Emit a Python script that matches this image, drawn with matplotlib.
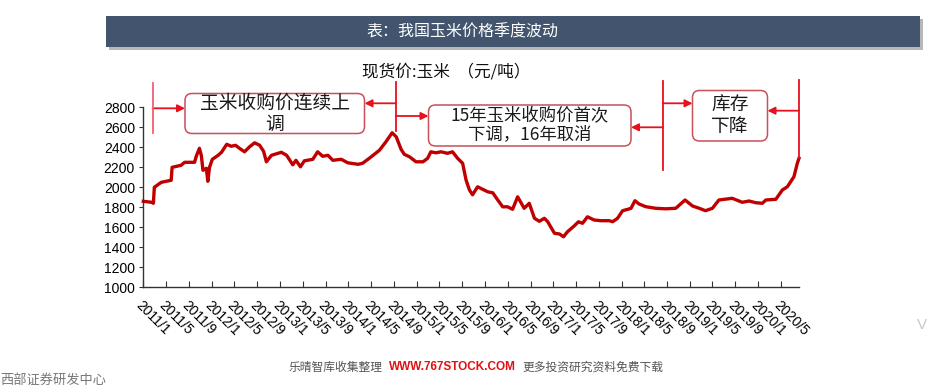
import matplotlib
matplotlib.use('Agg')
import matplotlib.pyplot as plt
import matplotlib.dates as mdates
import matplotlib.patches as mpatches
from matplotlib.transforms import Affine2D
from matplotlib.ticker import FuncFormatter
import pandas as pd

# 现货价:玉米 (元/吨)，从图上读出的近似值
dates = ['2011-01-01', '2011-02-15', '2011-02-24', '2011-03-01', '2011-04-07', '2011-05-30',
         '2011-06-04', '2011-07-22', '2011-08-10', '2011-10-02', '2011-10-11', '2011-10-28',
         '2011-11-07', '2011-11-16', '2011-12-04', '2011-12-12', '2011-12-21', '2012-01-05',
         '2012-02-05', '2012-02-23', '2012-03-22', '2012-04-15', '2012-05-08', '2012-05-29',
         '2012-06-25', '2012-07-22', '2012-08-18', '2012-09-14', '2012-10-05', '2012-10-20',
         '2012-11-16', '2013-01-08', '2013-02-05', '2013-03-10', '2013-03-27', '2013-04-20',
         '2013-05-11', '2013-06-25', '2013-07-21', '2013-08-17', '2013-09-14', '2013-10-10',
         '2013-11-24', '2013-12-29', '2014-02-22', '2014-03-18', '2014-04-23', '2014-06-16',
         '2014-07-21', '2014-08-23', '2014-09-14', '2014-10-10', '2014-10-27', '2014-11-24',
         '2014-12-29', '2015-02-04', '2015-03-01', '2015-03-18', '2015-04-14', '2015-05-11',
         '2015-06-15', '2015-07-12', '2015-08-08', '2015-09-04', '2015-09-22', '2015-10-10',
         '2015-10-27', '2015-11-23', '2015-12-20', '2016-01-16', '2016-02-12', '2016-03-09',
         '2016-04-05', '2016-05-01', '2016-05-28', '2016-06-24', '2016-07-29', '2016-08-25',
         '2016-09-22', '2016-10-18', '2016-11-14', '2016-12-02', '2017-01-07', '2017-02-03',
         '2017-02-24', '2017-03-17', '2017-04-22', '2017-05-15', '2017-06-06', '2017-07-02',
         '2017-08-07', '2017-09-13', '2017-10-26', '2017-11-14', '2017-12-10', '2018-01-06',
         '2018-02-03', '2018-02-20', '2018-03-13', '2018-04-04', '2018-05-10', '2018-07-02',
         '2018-08-25', '2018-10-17', '2018-12-06', '2019-01-15', '2019-02-20', '2019-03-25',
         '2019-05-01', '2019-06-05', '2019-08-15', '2019-10-08', '2019-11-13', '2019-12-18',
         '2020-01-23', '2020-02-11', '2020-04-04', '2020-05-09', '2020-06-05', '2020-07-10',
         '2020-07-28', '2020-08-06']
prices = [1860, 1850, 1840, 2000, 2050, 2070,
          2200, 2220, 2250, 2250, 2310, 2390,
          2320, 2170, 2190, 2060, 2200, 2280,
          2320, 2350, 2430, 2410, 2420, 2390,
          2355, 2405, 2445, 2420, 2360, 2255,
          2320, 2350, 2320, 2225, 2270, 2205,
          2265, 2280, 2355, 2310, 2320, 2270,
          2280, 2245, 2230, 2240, 2290, 2370,
          2455, 2545, 2505, 2380, 2330, 2305,
          2255, 2255, 2290, 2355, 2345, 2355,
          2340, 2355, 2290, 2240, 2075, 1975,
          1925, 2005, 1980, 1955, 1945, 1875,
          1805, 1805, 1780, 1905, 1790, 1840,
          1690, 1660, 1690, 1655, 1540, 1533,
          1505, 1555, 1613, 1655, 1640, 1705,
          1673, 1666, 1666, 1656, 1690, 1766,
          1780, 1790, 1866, 1833, 1806, 1790,
          1785, 1790, 1873, 1813, 1790, 1766,
          1790, 1873, 1890, 1850, 1863, 1846,
          1840, 1873, 1880, 1973, 2006, 2106,
          2240, 2290]

yticks = list(range(1000, 2801, 200))
title = '表：我国玉米价格季度波动'
chart_title = '现货价:玉米  （元/吨）'
notes = ['玉米收购价连续上\n调', '15年玉米收购价首次\n下调，16年取消', '库存\n下降']


def main():
    plt.rcParams['font.family'] = ['Liberation Sans', 'Noto Sans CJK SC', 'DejaVu Sans']
    W, H = 927, 388
    fig = plt.figure(figsize=(W / 100, H / 100), dpi=100)
    # 像素坐标（左上为原点）
    px = Affine2D().scale(0.01, -0.01).translate(0, H / 100) + fig.dpi_scale_trans

    # 标题栏
    fig.patches.append(mpatches.Rectangle((109, 19), 814, 31, transform=px, facecolor='#b8b8b8',
                                          edgecolor='none', zorder=0))
    fig.patches.append(mpatches.Rectangle((106, 16), 814, 31, transform=px, facecolor='#43546e',
                                          edgecolor='none', zorder=1))
    fig.text(462, 32, title, transform=px, color='white', fontsize=11.5, ha='center', va='center',
             family=['Noto Sans CJK SC', 'DejaVu Sans'])

    fig.text(446, 72, chart_title, transform=px, color='#111111', fontsize=12, ha='center',
             va='center', family=['Noto Sans CJK SC', 'DejaVu Sans'])

    # 主图
    left, right, top, bottom = 143.3, 799, 107.3, 287.3
    ax = fig.add_axes([left / W, 1 - bottom / H, (right - left) / W, (bottom - top) / H])
    x = pd.to_datetime(dates)
    ax.plot(x, prices, color='#c00000', lw=2.4, solid_joinstyle='round', clip_on=False)
    ax.set_ylim(1000, 2800)
    ax.set_yticks(yticks)
    ax.set_xlim(pd.Timestamp('2011-01-01'), pd.Timestamp('2020-08-06'))
    ax.xaxis.set_major_locator(mdates.MonthLocator(bymonth=[1, 5, 9]))
    ax.xaxis.set_major_formatter(FuncFormatter(
        lambda v, pos: '%d/%d' % (mdates.num2date(v).year, mdates.num2date(v).month)))
    for s in ['top', 'right']:
        ax.spines[s].set_visible(False)
    for s in ['left', 'bottom']:
        ax.spines[s].set_color('#333333')
        ax.spines[s].set_linewidth(1)
    ax.tick_params(axis='y', direction='out', length=3, labelsize=10, pad=3, color='#333333')
    ax.tick_params(axis='x', direction='in', length=4, labelsize=10, pad=8, color='#333333')
    for lab in ax.get_xticklabels():
        lab.set_rotation(-45)
        lab.set_ha('left')
        lab.set_va('top')
        lab.set_rotation_mode('anchor')
    ax.patch.set_alpha(0)

    # 注释框和箭头
    red = '#e8101c'
    box_edge = '#c8505a'
    vlines = [(152.7, 83, 133, '#f26070'), (395.7, 82, 131, red),
              (662.7, 81, 170, red), (799, 80, 158, red)]
    for xv, y0, y1, c in vlines:
        fig.lines.append(plt.Line2D([xv, xv], [y0, y1], transform=px, color=c, lw=1.3))

    boxes = [(185, 93.5, 364.5, 133.5, 13.5), (428.5, 105, 631, 146, 12.5),
             (692.5, 90.5, 767.5, 141, 13.5)]
    for (x0, y0, x1, y1, fs), txt in zip(boxes, notes):
        fig.patches.append(mpatches.FancyBboxPatch(
            (x0, y0), x1 - x0, y1 - y0, boxstyle='round,pad=0,rounding_size=7', transform=px,
            facecolor='white', edgecolor=box_edge, lw=1.1))
        fig.text((x0 + x1) / 2, (y0 + y1) / 2, txt, transform=px, fontsize=fs, color='#1a1a1a',
                 ha='center', va='center', linespacing=1.0,
                 family=['Noto Sans CJK SC', 'DejaVu Sans'])

    arrows = [(152.7, 185, 108.3), (395.7, 364.5, 103.3), (395.7, 428.5, 116),
              (662.7, 631, 127.3), (662.7, 692.5, 103.3), (799, 767.5, 110.7)]
    for xs, xe, ya in arrows:
        fig.patches.append(mpatches.FancyArrowPatch(
            (xs, ya), (xe, ya), transform=px, arrowstyle='-|>', mutation_scale=11,
            color=red, lw=1.3, shrinkA=0, shrinkB=0))

    # 页脚
    fig.text(289, 367, '乐晴智库收集整理', transform=px, fontsize=8.5, color='#555555',
             va='center', family=['Noto Sans CJK SC', 'DejaVu Sans'])
    fig.text(389, 367, 'WWW.767STOCK.COM', transform=px, fontsize=8.5, color='#e01010',
             va='center', weight='bold', family=['Liberation Sans', 'DejaVu Sans'])
    fig.text(522, 367, '更多投资研究资料免费下载', transform=px, fontsize=8.5, color='#555555',
             va='center', family=['Noto Sans CJK SC', 'DejaVu Sans'])
    fig.text(0, 387, '西部证券研发中心', transform=px, fontsize=9.5, color='#777777',
             va='bottom', family=['Noto Sans CJK SC', 'DejaVu Sans'])
    fig.text(917, 325, 'V', transform=px, fontsize=11, color='#c8c8c8', va='center')

    fig.savefig('out.png', dpi=100)


if __name__ == '__main__':
    main()
